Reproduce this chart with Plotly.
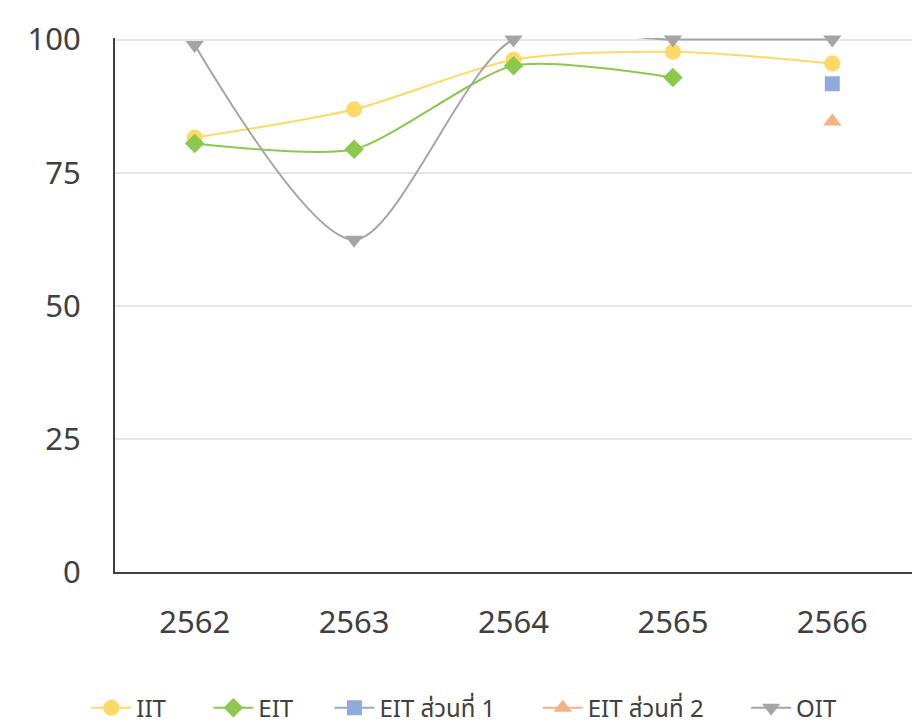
import plotly.graph_objects as go

years = ["2562", "2563", "2564", "2565", "2566"]
iit = [81.6, 86.9, 96.2, 97.7, 95.5]
eit = [80.5, 79.4, 95.1, 92.9, None]
eit_p1 = [None, None, None, None, 91.7]
eit_p2 = [None, None, None, None, 84.6]
oit = [99.0, 62.4, 100, 100, 100]

font_family = "'Noto Sans', 'Noto Sans Thai', sans-serif"
NB = "\u00a0"

fig = go.Figure()
fig.add_trace(go.Scatter(x=years, y=iit, name="IIT" + NB * 6, mode="lines+markers", cliponaxis=False,
                         line=dict(color="#FFD966", width=2, shape="spline", smoothing=0.8),
                         marker=dict(symbol="circle", size=16, color="#FFD966")))
fig.add_trace(go.Scatter(x=years, y=eit, name="EIT" + NB * 5, mode="lines+markers", cliponaxis=False,
                         line=dict(color="#8CC84B", width=2, shape="spline", smoothing=0.65),
                         marker=dict(symbol="diamond", size=15, color="#8CC84B")))
fig.add_trace(go.Scatter(x=years, y=eit_p1, name="EIT ส่วนที่ 1" + NB * 6, mode="lines+markers", cliponaxis=False,
                         line=dict(color="#8FAADC", width=2),
                         marker=dict(symbol="square", size=15, color="#8FAADC")))
fig.add_trace(go.Scatter(x=years, y=eit_p2, name="EIT ส่วนที่ 2" + NB * 6, mode="lines+markers", cliponaxis=False,
                         line=dict(color="#F4B183", width=2),
                         marker=dict(symbol="triangle-up", size=16, color="#F4B183")))
fig.add_trace(go.Scatter(x=years, y=oit, name="OIT", mode="lines+markers", cliponaxis=False,
                         line=dict(color="#A5A5A5", width=2, shape="spline", smoothing=0.8),
                         marker=dict(symbol="triangle-down", size=16, color="#A5A5A5")))

fig.update_layout(
    width=916, height=717,
    margin=dict(l=107, r=12, t=30, b=153, autoexpand=False),
    paper_bgcolor="white", plot_bgcolor="white",
    font=dict(family=font_family, color="#404040"),
    showlegend=True,
    legend=dict(orientation="h", x=-0.036, xanchor="left", y=-0.255, yanchor="middle",
                font=dict(size=24, color="#404040"), itemwidth=40),
)
fig.update_xaxes(type="category", range=[-0.5, 4.5], showline=True, linecolor="#404040",
                 linewidth=2, showgrid=False, ticks="", tickfont=dict(size=31, color="#404040"),
                 ticklabelstandoff=22, automargin=False)
fig.update_yaxes(range=[0, 100.3], tickvals=[0, 25, 50, 75, 100], showline=True,
                 linecolor="#404040", linewidth=2,
                 showgrid=True, gridcolor="#E6E6E6", gridwidth=2, zeroline=False,
                 ticks="", tickfont=dict(size=31, color="#404040"), ticklabelstandoff=26,
                 automargin=False)

fig.write_html("out.html")
